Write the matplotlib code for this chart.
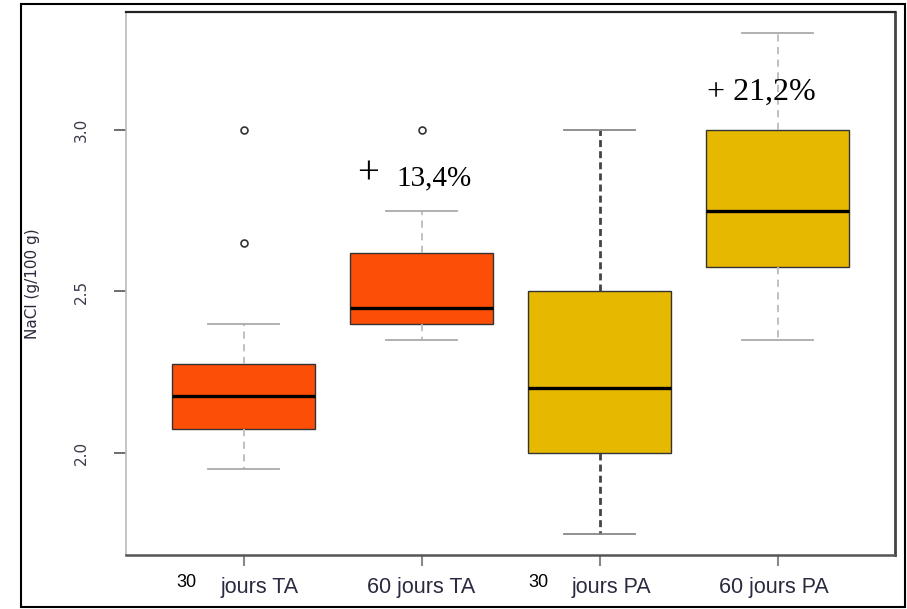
import matplotlib
matplotlib.use("Agg")
import matplotlib.pyplot as plt
from matplotlib.patches import Rectangle
from matplotlib.transforms import blended_transform_factory

# NaCl content per group (g/100 g), five-number summaries + outliers
groups = ["30 jours TA", "60 jours TA", "30 jours PA", "60 jours PA"]
q1 = [2.075, 2.40, 2.00, 2.575]
med = [2.175, 2.45, 2.20, 2.75]
q3 = [2.275, 2.62, 2.50, 3.00]
whislo = [1.95, 2.35, 1.75, 2.35]
whishi = [2.40, 2.75, 3.00, 3.30]
outliers = [[3.0, 2.65], [3.0], [], []]
colors = ["#FC4E07", "#FC4E07", "#E7B800", "#E7B800"]

# tick label pieces: the "30" prefix is set apart from the rest
prefix = ["30", "", "30", ""]
suffix = ["jours TA", "60 jours TA", "jours PA", "60 jours PA"]

yticks = [2.0, 2.5, 3.0]
ytick_labels = ["2.0", "2.5", "3.0"]

stats = []
for i, name in enumerate(groups):
    stats.append(dict(label=name, q1=q1[i], med=med[i], q3=q3[i],
                      whislo=whislo[i], whishi=whishi[i], fliers=outliers[i]))

fig = plt.figure(figsize=(9.07, 6.09), dpi=100)
ax = fig.add_axes([0.139, 0.0887, 0.848, 0.8913])

positions = [1, 2, 3, 4]
bp = ax.bxp(stats, positions=positions, widths=0.8, capwidths=0.4,
            patch_artist=True,
            boxprops=dict(edgecolor="#333333", linewidth=1.0),
            medianprops=dict(color="black", linewidth=2.4),
            whiskerprops=dict(color="#bbbbbb", linewidth=1.3, linestyle=(0, (4, 3))),
            capprops=dict(color="#aaaaaa", linewidth=1.3),
            flierprops=dict(marker="o", markerfacecolor="none",
                            markeredgecolor="#333333", markersize=5,
                            markeredgewidth=1.2))

for patch, c in zip(bp["boxes"], colors):
    patch.set_facecolor(c)

# the 30 jours PA whiskers are drawn darker
for w in bp["whiskers"][4:6]:
    w.set_color("#444444")
    w.set_linewidth(2)
    w.set_linestyle((0, (2.5, 1.5)))
for c in bp["caps"][4:6]:
    c.set_color("#888888")

ax.set_xlim(0.34, 4.66)
ax.set_ylim(1.684, 3.365)

ax.set_yticks(yticks)
ax.set_yticklabels(ytick_labels, rotation=90, va="center",
                   fontsize=11, color="#3a3a4a")
ax.tick_params(axis="y", length=9, width=1.2, color="#555555", pad=18)
ax.set_ylabel("NaCl (g/100 g)", fontsize=11, color="#2a2a3a")
ax.yaxis.set_label_coords(-0.112, 0.5)

ax.set_xticks(positions)
ax.set_xticklabels([])
ax.tick_params(axis="x", length=8, width=1.5, color="#888888")

trans = blended_transform_factory(ax.transData, ax.transAxes)
pre_x = [0.677, None, 2.656, None]
suf_x = [1.089, 2.0, 3.064, 3.98]
for i in range(4):
    if prefix[i]:
        ax.text(pre_x[i], -0.051, prefix[i], transform=trans, ha="center",
                va="center", fontsize=13, color="black", family="Liberation Sans")
    ax.text(suf_x[i], -0.060, suffix[i], transform=trans, ha="center",
            va="center", fontsize=15.5, color="#2a2a40", family="Liberation Sans")

# percentage increases
ax.text(1.697, 2.864, "+", fontsize=28, ha="center", va="center",
        family="Liberation Serif", color="black")
ax.text(1.859, 2.851, "13,4%", fontsize=21, ha="left", va="center",
        family="Liberation Serif", color="black")
ax.text(3.605, 3.118, "+ 21,2%", fontsize=23, ha="left", va="center",
        family="Liberation Serif", color="black")

ax.spines["top"].set_color("#222222")
ax.spines["top"].set_linewidth(1.6)
ax.spines["right"].set_color("#444444")
ax.spines["right"].set_linewidth(2)
ax.spines["bottom"].set_color("#555555")
ax.spines["bottom"].set_linewidth(1.8)
ax.spines["left"].set_color("#bbbbbb")
ax.spines["left"].set_linewidth(1.2)

# outer frame around the whole figure
fig.patches.append(Rectangle((0.0232, 0.0033), 0.9746, 0.9901,
                             transform=fig.transFigure, fill=False,
                             edgecolor="black", linewidth=1.5))

fig.savefig("out.png", dpi=100)
